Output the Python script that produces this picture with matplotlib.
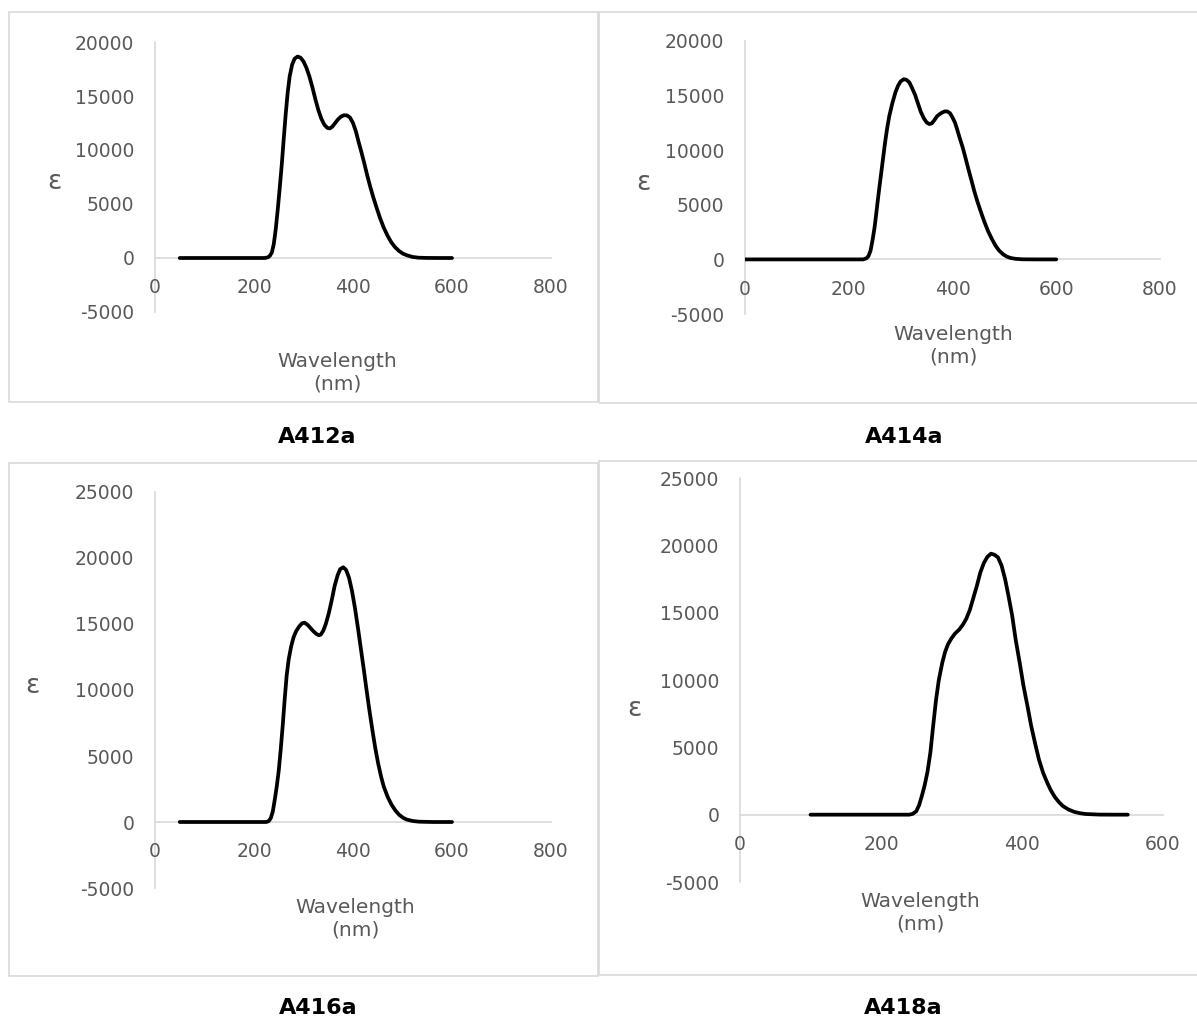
import matplotlib
matplotlib.use("Agg")
import matplotlib.pyplot as plt
from matplotlib.patches import Rectangle

plt.rcParams["axes.unicode_minus"] = False

W, H = 1197, 1019

# spectra (wavelength nm, epsilon)
wl_412 = [50, 100, 150, 200, 222, 228, 232, 236, 240, 244, 248, 252, 256, 260, 264, 268, 272, 277,
          282, 288, 294, 300, 306, 312, 318, 324, 330, 336, 342, 348, 353, 358, 364, 370, 376, 382,
          388, 394, 400, 406, 411, 417, 423, 429, 435, 441, 447, 454, 462, 470, 477, 485, 493, 501,
          509, 520, 532, 550, 575, 600]
eps_412 = [0, 0, 0, 0, 0, 60, 200, 500, 1300, 2700, 4500, 6500, 8600, 11000, 13300, 15300, 16800, 17900,
           18450, 18650, 18550, 18200, 17600, 16800, 15800, 14700, 13700, 12900, 12350, 12050, 12000, 12150, 12500, 12850, 13100, 13220,
           13200, 13000, 12500, 11700, 10800, 9800, 8730, 7600, 6570, 5620, 4750, 3780, 2820, 2050, 1480, 1000, 650, 400,
           250, 100, 30, 5, 0, 0]

wl_414 = [0, 100, 200, 228, 234, 238, 242, 246, 250, 254, 258, 262, 266, 270, 274, 278, 284, 290,
          295, 300, 306, 311, 317, 322, 328, 334, 339, 345, 350, 355, 360, 365, 370, 375, 380, 385,
          390, 395, 400, 405, 409, 414, 420, 425, 431, 437, 442, 448, 454, 461, 468, 475, 483, 490,
          498, 505, 512, 522, 535, 560, 600]
eps_414 = [0, 0, 0, 0, 100, 300, 800, 1800, 3000, 4600, 6200, 7700, 9200, 10700, 12000, 13100, 14300, 15300,
           15900, 16300, 16500, 16450, 16200, 15700, 15050, 14200, 13500, 12900, 12550, 12400, 12450, 12750, 13100, 13300, 13450, 13550,
           13550, 13400, 13000, 12500, 11900, 11100, 10200, 9300, 8200, 7150, 6250, 5300, 4450, 3500, 2650, 1950, 1250, 800,
           450, 250, 130, 50, 10, 0, 0]

wl_416 = [50, 100, 150, 200, 225, 230, 234, 238, 242, 246, 250, 254, 258, 262, 266, 270, 275, 280,
          285, 291, 297, 302, 308, 314, 320, 326, 331, 335, 340, 345, 351, 357, 363, 369, 374, 380,
          386, 392, 398, 404, 410, 416, 422, 427, 433, 439, 445, 451, 457, 462, 470, 478, 486, 494,
          502, 509, 520, 533, 560, 600]
eps_416 = [0, 0, 0, 0, 0, 80, 300, 800, 1700, 2700, 3900, 5500, 7300, 9300, 11100, 12300, 13300, 14000,
           14450, 14800, 15050, 15100, 14950, 14700, 14450, 14250, 14150, 14200, 14500, 15000, 15800, 16800, 17900, 18700, 19150, 19300,
           19100, 18500, 17500, 16200, 14700, 13100, 11500, 10100, 8500, 7000, 5600, 4400, 3400, 2700, 1900, 1300, 850, 520,
           300, 180, 80, 25, 0, 0]

wl_418 = [100, 150, 200, 240, 245, 250, 254, 258, 262, 266, 270, 274, 278, 282, 287, 291, 295, 300,
          305, 311, 316, 321, 326, 331, 336, 341, 346, 351, 356, 361, 366, 371, 376, 381, 386, 391,
          397, 402, 408, 413, 419, 424, 430, 436, 441, 447, 453, 458, 466, 474, 482, 490, 510, 530, 550]
eps_418 = [0, 0, 0, 0, 60, 250, 700, 1400, 2200, 3200, 4600, 6600, 8500, 10000, 11300, 12100, 12650, 13100,
           13450, 13750, 14100, 14550, 15200, 16100, 17000, 18000, 18700, 19150, 19380, 19300, 19100, 18500, 17500, 16200, 14800, 13000,
           11200, 9600, 8000, 6600, 5200, 4100, 3100, 2350, 1800, 1280, 900, 640, 380, 210, 110, 50, 5, 0, 0]

names = ["A412a", "A414a", "A416a", "A418a"]
xmax = [800, 800, 800, 600]
ymax = [20000, 20000, 25000, 25000]

grey = "#d9d9d9"
txt = "#595959"


def fx(px):
    return px / W


def fy(py):
    return 1 - py / H


fig = plt.figure(figsize=(W / 100, H / 100), dpi=100)

# panel frames (pixels: left, top, right, bottom)
frames = [(9, 12, 598, 402), (599, 12, 1200, 403), (9, 463, 598, 976), (599, 461, 1200, 975)]
for l, t, r, b in frames:
    fig.add_artist(Rectangle((fx(l), fy(b)), fx(r - l), (b - t) / H, transform=fig.transFigure,
                             fill=False, edgecolor=grey, lw=1.2))

# plot areas (pixels: x at 0, x at max, y at top, y at -5000)
areas = [(155, 551, 42, 312), (745, 1160, 41, 314), (155, 551, 492, 888), (740, 1163, 478, 882)]
data = [(wl_412, eps_412), (wl_414, eps_414), (wl_416, eps_416), (wl_418, eps_418)]

eps_pos = [(54, 182), (643, 183), (32, 686), (634, 709)]
wl_pos = [(337, 373), (953, 346), (355, 919), (920, 913)]
title_pos = [(317, 437), (904, 437), (318, 1008), (903, 1008)]

for i in range(4):
    x0, x1, yt, yb = areas[i]
    ax = fig.add_axes([fx(x0), fy(yb), fx(x1 - x0), (yb - yt) / H])
    wl, eps = data[i]
    ax.plot(wl, eps, color="black", lw=2.7, solid_joinstyle="round", solid_capstyle="round")
    ax.set_xlim(0, xmax[i])
    ax.set_ylim(-5000, ymax[i])
    ax.set_xticks(range(0, xmax[i] + 1, 200))
    ax.set_yticks(range(-5000, ymax[i] + 1, 5000))
    ax.patch.set_alpha(0)
    for s in ["top", "right"]:
        ax.spines[s].set_visible(False)
    ax.spines["left"].set_position(("data", 0))
    ax.spines["bottom"].set_position(("data", 0))
    for s in ["left", "bottom"]:
        ax.spines[s].set_color(grey)
        ax.spines[s].set_linewidth(1.2)
        ax.spines[s].set_zorder(0.5)
    ax.tick_params(axis="both", length=0, labelsize=13.5, labelcolor=txt)
    ax.tick_params(axis="x", pad=14.5)
    ax.tick_params(axis="y", pad=15)

    ex, ey = eps_pos[i]
    fig.text(fx(ex), fy(ey), "ε", fontsize=19, color=txt, ha="center", va="center")
    wx, wy = wl_pos[i]
    fig.text(fx(wx), fy(wy), "Wavelength\n(nm)", fontsize=14.5, color=txt,
             ha="center", va="center", multialignment="center", linespacing=1.25)
    tx, ty = title_pos[i]
    fig.text(fx(tx), fy(ty), names[i], fontsize=16, fontweight="bold", color="black",
             ha="center", va="center")

fig.savefig("out.png", dpi=100, facecolor="white")
